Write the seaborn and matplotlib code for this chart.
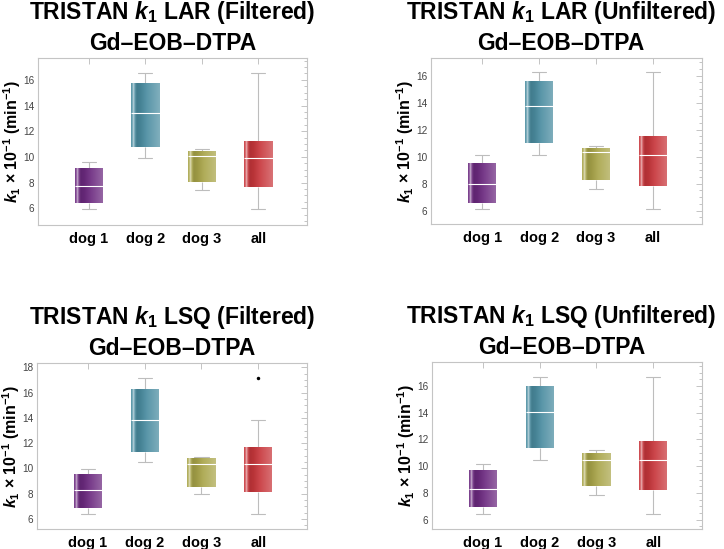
"""
TRISTAN k1 box-whisker panels (Gd-EOB-DTPA), LAR / LSQ, filtered / unfiltered.
"""

import numpy as np
import pandas as pd
import matplotlib
matplotlib.use("Agg")
import matplotlib.pyplot as plt
import seaborn as sns
from matplotlib.colors import LinearSegmentedColormap, to_rgb
from matplotlib.ticker import MultipleLocator, FixedLocator

groups = ["dog 1", "dog 2", "dog 3", "all"]
box_colors = ["#6c2a80", "#4b8da1", "#a9a54a", "#c8373c"]

# each row: [whisker low, q1, median, q3, whisker high], one row per group
lar_filtered = [
    [5.92, 6.39, 7.74, 9.12, 9.64],
    [9.90, 10.75, 13.38, 15.74, 16.57],
    [7.43, 8.08, 10.10, 10.47, 10.60],
    [5.92, 7.64, 9.90, 11.27, 16.57],
]
lar_unfiltered = [
    [6.12, 6.57, 7.93, 9.53, 10.12],
    [10.12, 10.99, 13.73, 15.63, 16.25],
    [7.60, 8.27, 10.32, 10.64, 10.77],
    [6.12, 7.80, 10.12, 11.53, 16.25],
]
lsq_filtered = [
    [6.39, 6.84, 8.26, 9.53, 9.92],
    [10.47, 11.32, 13.87, 16.32, 17.18],
    [7.95, 8.53, 10.34, 10.79, 10.92],
    [6.39, 8.16, 10.32, 11.66, 13.87],
]
lsq_unfiltered = [
    [6.45, 6.93, 8.30, 9.73, 10.20],
    [10.48, 11.38, 14.08, 16.03, 16.70],
    [7.88, 8.53, 10.48, 10.98, 11.18],
    [6.45, 8.20, 10.48, 11.90, 16.70],
]
# outliers (group, value)
lsq_filtered_outlier_groups = ["all"]
lsq_filtered_outlier_values = [17.16]

panel_titles = [
    "TRISTAN $k_1$ LAR (Filtered)\nGd\u2013EOB\u2013DTPA",
    "TRISTAN $k_1$ LAR (Unfiltered)\nGd\u2013EOB\u2013DTPA",
    "TRISTAN $k_1$ LSQ (Filtered)\nGd\u2013EOB\u2013DTPA",
    "TRISTAN $k_1$ LSQ (Unfiltered)\nGd\u2013EOB\u2013DTPA",
]

FRAME = "#c4c4c4"

sns.set_style("white")
plt.rcParams["font.family"] = ["Liberation Sans", "DejaVu Sans"]
plt.rcParams["mathtext.fontset"] = "custom"
plt.rcParams["mathtext.it"] = "Liberation Sans:italic:bold"
plt.rcParams["mathtext.rm"] = "Liberation Sans:bold"
plt.rcParams["mathtext.bf"] = "Liberation Sans:bold"


def glossy_cmap(color):
    """Vertical-stripe shading similar to Mathematica's glossy boxes."""
    base = np.array(to_rgb(color))
    stops = [(0.0, 0.05), (0.05, 0.25), (0.09, 0.65), (0.13, 0.15),
             (0.2, -0.12), (0.32, -0.08), (0.55, 0.08), (1.0, 0.3)]
    cols = []
    for pos, f in stops:
        if f >= 0:
            c = base + (1 - base) * f
        else:
            c = base * (1 + f)
        cols.append((pos, tuple(c)))
    return LinearSegmentedColormap.from_list("gloss", cols)


def shade_boxes(ax):
    patches = sorted(ax.patches, key=lambda p: p.get_path().get_extents().x0)
    grad = np.linspace(0, 1, 256)[None, :]
    for patch, color in zip(patches, box_colors):
        ext = patch.get_path().get_extents()
        patch.set_edgecolor("none")
        im = ax.imshow(grad, cmap=glossy_cmap(color), aspect="auto",
                       extent=[ext.x0, ext.x1, ext.y0, ext.y1], origin="lower",
                       zorder=patch.get_zorder() + 0.05)
        im.set_clip_path(patch)
    for line in ax.lines:
        if line.get_color() == "white":
            line.set_zorder(6)


def draw_panel(ax, summary, title, ylim, top_tick, title_x=0.5,
               out_groups=None, out_values=None):
    rows = []
    for g, vals in zip(groups, summary):
        for v in vals:
            rows.append({"group": g, "value": v})
    df = pd.DataFrame(rows)

    sns.boxplot(data=df, x="group", y="value", hue="group", order=groups,
                hue_order=groups, palette=box_colors, width=0.5, whis=1.5,
                linecolor="#bdbdbd", linewidth=0.8, showfliers=False,
                medianprops={"color": "white", "linewidth": 0.8},
                legend=False, ax=ax)
    if out_values:
        sns.stripplot(x=out_groups, y=out_values, order=groups, jitter=False,
                      color="black", size=2.5, ax=ax)
    shade_boxes(ax)

    ax.set_xlim(-0.9, 3.86)
    ax.set_ylim(*ylim)
    ax.yaxis.set_major_locator(FixedLocator(np.arange(6, top_tick + 1, 2)))
    ax.yaxis.set_minor_locator(MultipleLocator(0.5))
    ax.tick_params(which="both", direction="in", top=True, right=True,
                   color=FRAME, width=0.7)
    ax.tick_params(which="major", length=4)
    ax.tick_params(which="minor", length=2)
    ax.tick_params(axis="y", labelsize=7.2, labelcolor="#444444", pad=2.5)
    ax.tick_params(axis="x", labelsize=10.5, labelcolor="black", pad=5)
    for lbl in ax.get_xticklabels():
        lbl.set_fontweight("bold")
    for sp in ax.spines.values():
        sp.set_color(FRAME)
        sp.set_linewidth(0.8)

    ax.set_xlabel("")
    ax.set_ylabel("$k_1$ \u00d7 10$^{-1}$ (min$^{-1}$)", fontsize=11.5,
                  fontweight="bold", color="black", labelpad=0)
    t = ax.set_title(title, fontsize=16.5, fontweight="bold", color="black",
                     linespacing=1.3, pad=6)
    t.set_x(title_x)


W, H = 724, 549
fig = plt.figure(figsize=(W / 100, H / 100), dpi=100)


def add_axes(left, right, top, bottom):
    return fig.add_axes([left / W, 1 - bottom / H, (right - left) / W, (bottom - top) / H])


ax1 = add_axes(38, 307, 58, 225)
ax2 = add_axes(431, 702, 58, 224)
ax3 = add_axes(37, 307, 363, 529)
ax4 = add_axes(432, 702, 362, 529)

draw_panel(ax1, lar_filtered, panel_titles[0], (4.7, 17.7), 16)
draw_panel(ax2, lar_unfiltered, panel_titles[1], (5.0, 17.3), 16, title_x=0.48)
draw_panel(ax3, lsq_filtered, panel_titles[2], (5.2, 18.35), 18,
           out_groups=lsq_filtered_outlier_groups,
           out_values=lsq_filtered_outlier_values)
draw_panel(ax4, lsq_unfiltered, panel_titles[3], (5.3, 17.8), 16, title_x=0.48)

fig.savefig("out.png", dpi=100)
